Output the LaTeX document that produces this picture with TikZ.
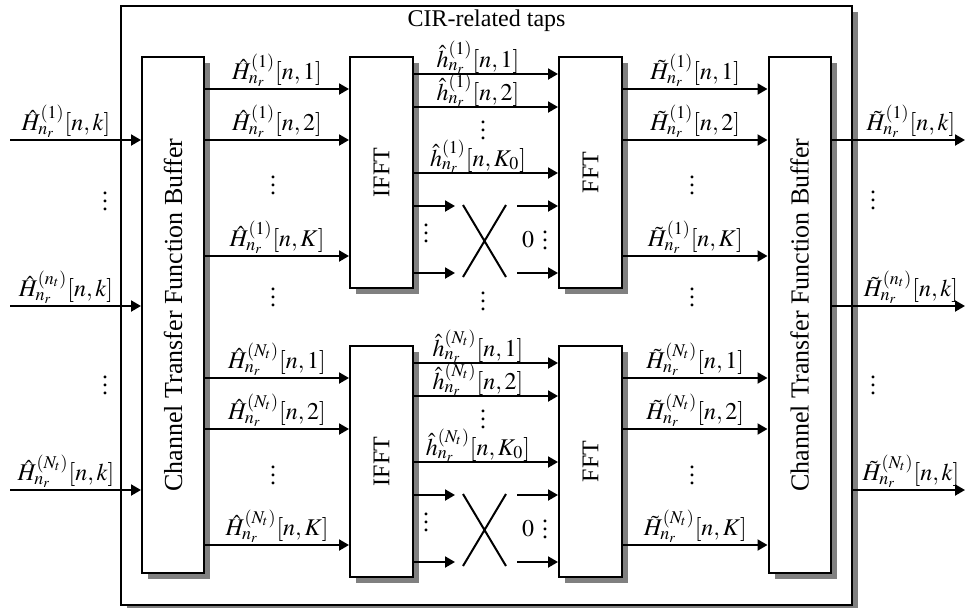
\documentclass[tikz,border=0pt]{standalone}
\usepackage{mathptmx}
\usepackage{fontspec}
\setmainfont{Liberation Serif}
\usetikzlibrary{arrows.meta}
\newcommand\ctfb{\fontsize{13}{15}\selectfont\rotatebox{90}{Channel Transfer Function Buffer}}

\begin{document}
\begin{tikzpicture}[x=0.5pt, y=-0.5pt, line width=1pt, >={Triangle[length=5pt,width=5.5pt]},
   font=\fontsize{12}{14}\selectfont,
   blk/.style={draw, fill=white, inner sep=0pt},
   shd/.style={fill=black!50},
   lbl/.style={anchor=south, inner sep=1pt},
   tap/.style={anchor=base, inner sep=0pt, yshift=3.5pt, xshift=-4pt},
   dots/.style={inner sep=0pt, yshift=3pt}
   ]
  \useasboundingbox (0,0) rectangle (966,607);

  % frame and blocks, each on its shadow
  \foreach \n/\x/\y/\w/\h/\s in {F/486.5/305.5/731/599/{},
      L/173/315/62/516/{\ctfb}, R/799.5/315/62/516/{\ctfb},
      I1/381.5/172.5/63/231/{\rotatebox{90}{IFFT}}, I2/381.5/461.5/63/231/{\rotatebox{90}{IFFT}},
      G1/590.5/172.5/63/231/{\rotatebox{90}{FFT}}, G2/590.5/461.5/63/231/{\rotatebox{90}{FFT}}} {
    \fill[shd] (\x-\w/2+6,\y-\h/2+6) rectangle (\x+\w/2+6,\y+\h/2+6);
    \node[blk, minimum width=\w*0.5pt, minimum height=\h*0.5pt] (\n) at (\x,\y) {\s};
  }
  \node[anchor=north, inner sep=2pt] (T) at (F.north) {CIR-related taps};

  \foreach \k/\o/\t in {0/1/1, 289/2/N_t} {
    % buffer -> IFFT and FFT -> buffer
    \foreach \y/\n in {89/1, 140/2, 256/K} {
      \coordinate (r) at (0,\y+\k);
      \draw[->] (L.east |- r) -- node[lbl] {$\hat{H}_{n_r}^{(\t)}[n,\n]$} (I\o.west |- r);
      \draw[->] (G\o.east |- r) -- node[lbl] {$\tilde{H}_{n_r}^{(\t)}[n,\n]$} (R.west |- r);
    }
    % CIR taps kept
    \foreach \y/\n in {74/1, 107/2, 173/K_0} {
      \coordinate (r) at (0,\y+\k);
      \draw[->] (I\o.east |- r) -- node[tap] {$\hat{h}_{n_r}^{(\t)}[n,\n]$} (G\o.west |- r);
    }
    % remaining taps set to zero
    \foreach \y in {206,273} {
      \coordinate (p) at (455,\y+\k);
      \coordinate (q) at (517,\y+\k);
      \draw[->] (I\o.east |- p) -- (p);
      \draw[->] (q) -- (G\o.west |- q);
    }
    \draw (463,205+\k) -- (506,277+\k) (506,205+\k) -- (463,277+\k);
    \node (z\o) at (528,240+\k) {$0$};
  }

  % inputs and outputs
  \foreach \y/\t/\s [count=\i] in {140/1/R, 306/n_t/R, 490/N_t/F} {
    \coordinate (a\i) at (10,\y);
    \coordinate (b\i) at (965,\y);
    \draw[->] (a\i) -- (L.west |- a\i);
    \draw[->] (\s.east |- b\i) -- (b\i);
    \node[lbl] (ha\i) at (66,\y) {$\hat{H}_{n_r}^{(\t)}[n,k]$};
    \node[lbl] (hb\i) at (911,\y) {$\tilde{H}_{n_r}^{(\t)}[n,k]$};
  }

  \foreach \x/\y [count=\i] in {105/201, 105/385, 873/200, 873/385, 273/185, 273/297, 273/475,
      692/185, 692/297, 692/475, 483/130, 483/301, 483/419, 426/233, 426/522, 545/240, 545/529}
    \node[dots] (v\i) at (\x,\y) {$\vdots$};
\end{tikzpicture}
\end{document}
